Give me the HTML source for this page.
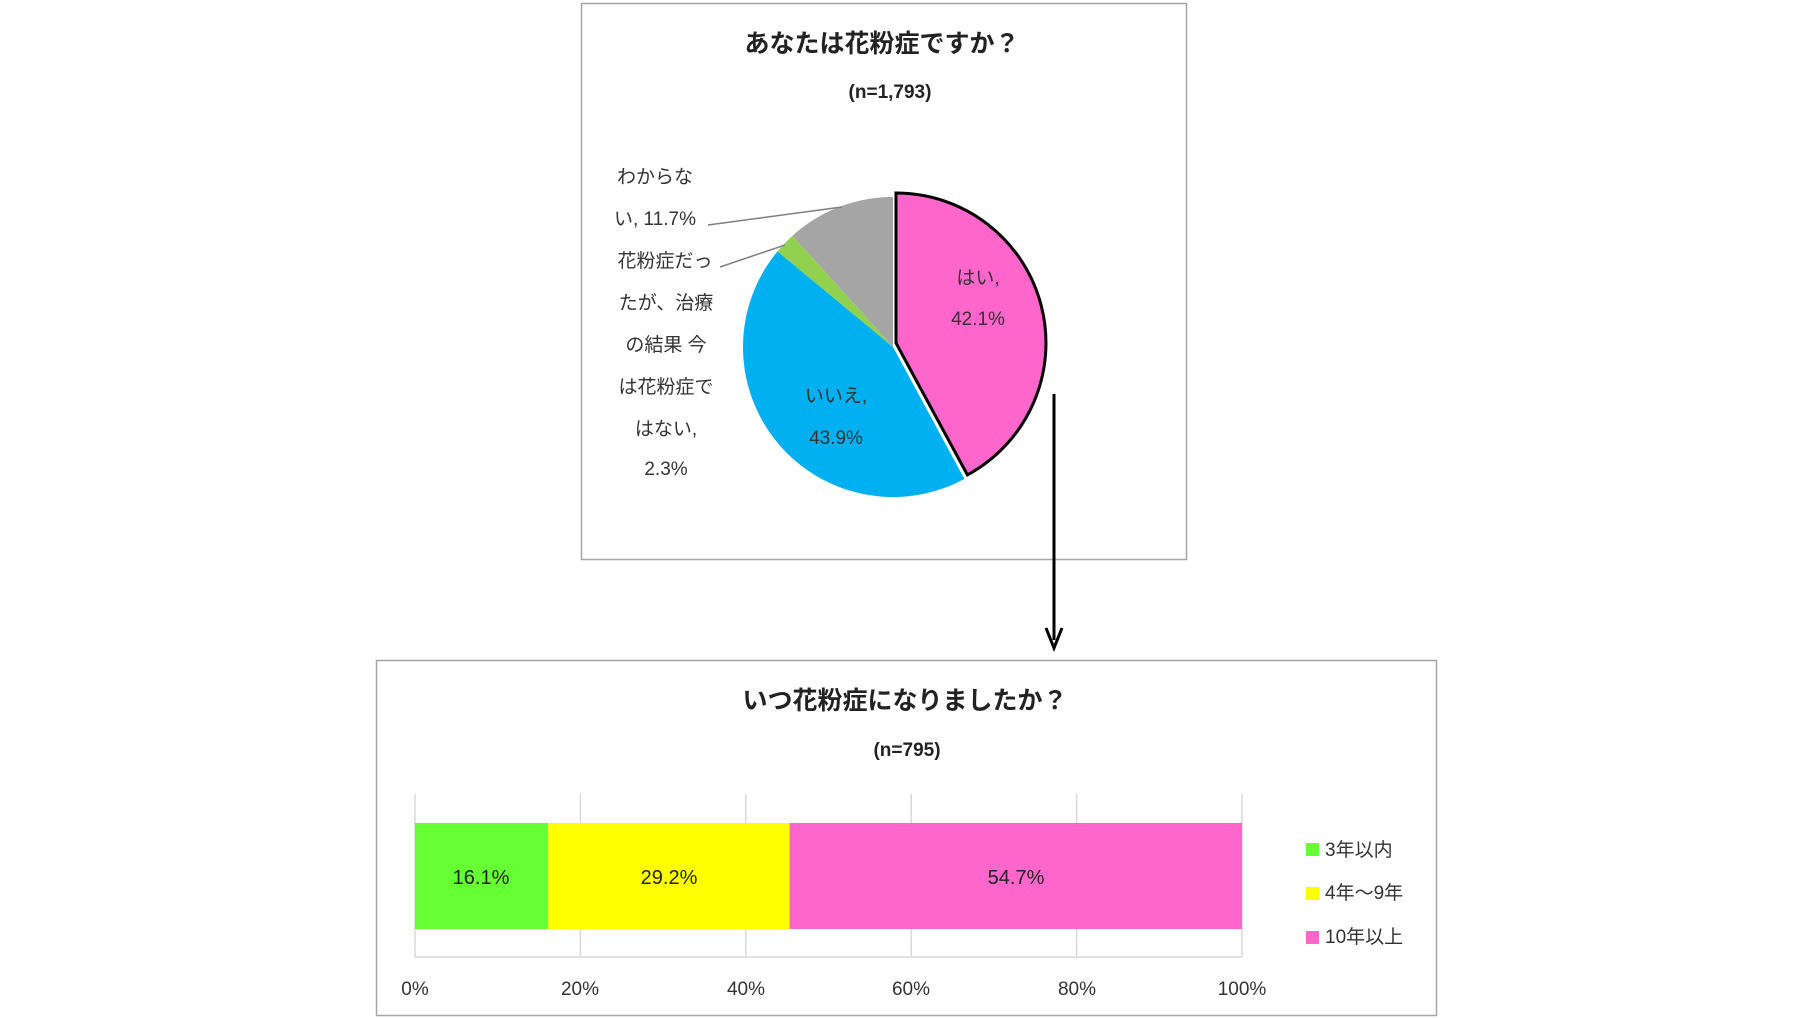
<!DOCTYPE html>
<html><head><meta charset="utf-8"><style>
html,body{margin:0;padding:0;background:#fff;}
svg{display:block;font-family:"Liberation Sans","Noto Sans CJK JP",sans-serif;}
</style></head><body>
<svg width="1807" height="1018" viewBox="0 0 1807 1018">
<rect x="581.5" y="3.5" width="605" height="556" fill="#fff" stroke="#a6a6a6" stroke-width="1.5"/>
<text x="882" y="52" text-anchor="middle" font-size="25" font-weight="bold" fill="#222">あなたは花粉症ですか？</text>
<text x="890" y="98" text-anchor="middle" font-size="19" font-weight="bold" fill="#222">(n=1,793)</text>
<path d="M893,347 L964.4,478.9 A150,150 0 0 1 743,347 A150,150 0 0 1 777.5,251.4 Z" fill="#00b0f0"/>
<path d="M893,347 L777.5,251.4 A150,150 0 0 1 792.5,235.7 Z" fill="#92d050"/>
<path d="M893,347 L792.5,235.7 A150,150 0 0 1 893,197 Z" fill="#a5a5a5"/>
<path d="M896,343 L896,193 A150,150 0 0 1 967.4,474.9 Z" fill="#ff66cc" stroke="#000" stroke-width="3"/>
<line x1="708" y1="225" x2="842" y2="207" stroke="#7f7f7f" stroke-width="1.5"/>
<line x1="720" y1="267" x2="785" y2="245" stroke="#7f7f7f" stroke-width="1.5"/>
<g font-size="19" fill="#333" text-anchor="middle">
<text x="655" y="183">わからな</text>
<text x="655" y="225">い, 11.7%</text>
<text x="665" y="267">花粉症だっ</text>
<text x="666" y="309">たが、治療</text>
<text x="666" y="351">の結果 今</text>
<text x="666" y="393">は花粉症で</text>
<text x="666" y="435">はない,</text>
<text x="666" y="475">2.3%</text>
<text x="978" y="284">はい,</text>
<text x="978" y="325">42.1%</text>
<text x="836" y="402">いいえ,</text>
<text x="836" y="444">43.9%</text>
</g>
<line x1="1054" y1="394" x2="1054" y2="640" stroke="#000" stroke-width="3"/>
<path d="M1046,628 L1054,648 L1062,628" fill="none" stroke="#000" stroke-width="3"/>
<rect x="376.5" y="660.5" width="1060" height="355" fill="#fff" stroke="#a6a6a6" stroke-width="1.5"/>
<text x="905" y="709" text-anchor="middle" font-size="25" font-weight="bold" fill="#222">いつ花粉症になりましたか？</text>
<text x="907" y="756" text-anchor="middle" font-size="19" font-weight="bold" fill="#222">(n=795)</text>
<g stroke="#d9d9d9" stroke-width="1.5">
<line x1="415" y1="794" x2="415" y2="957"/>
<line x1="580.4" y1="794" x2="580.4" y2="957"/>
<line x1="745.8" y1="794" x2="745.8" y2="957"/>
<line x1="911.2" y1="794" x2="911.2" y2="957"/>
<line x1="1076.6" y1="794" x2="1076.6" y2="957"/>
<line x1="1242" y1="794" x2="1242" y2="957"/>
<line x1="415" y1="957" x2="1242" y2="957"/>
</g>
<rect x="415" y="823" width="133.1" height="106" fill="#66ff33"/>
<rect x="548.1" y="823" width="241.5" height="106" fill="#ffff00"/>
<rect x="789.6" y="823" width="452.4" height="106" fill="#ff66cc"/>
<g font-size="20" fill="#222" text-anchor="middle">
<text x="481" y="884">16.1%</text>
<text x="669" y="884">29.2%</text>
<text x="1016" y="884">54.7%</text>
</g>
<g font-size="19" fill="#333" text-anchor="middle">
<text x="415" y="995">0%</text>
<text x="580" y="995">20%</text>
<text x="746" y="995">40%</text>
<text x="911" y="995">60%</text>
<text x="1077" y="995">80%</text>
<text x="1242" y="995">100%</text>
</g>
<rect x="1306" y="843" width="13" height="13" fill="#66ff33"/>
<rect x="1306" y="887" width="13" height="13" fill="#ffff00"/>
<rect x="1306" y="931" width="13" height="13" fill="#ff66cc"/>
<g font-size="19" fill="#333">
<text x="1325" y="856">3年以内</text>
<text x="1325" y="899">4年～9年</text>
<text x="1325" y="943">10年以上</text>
</g>
</svg>
</body></html>
